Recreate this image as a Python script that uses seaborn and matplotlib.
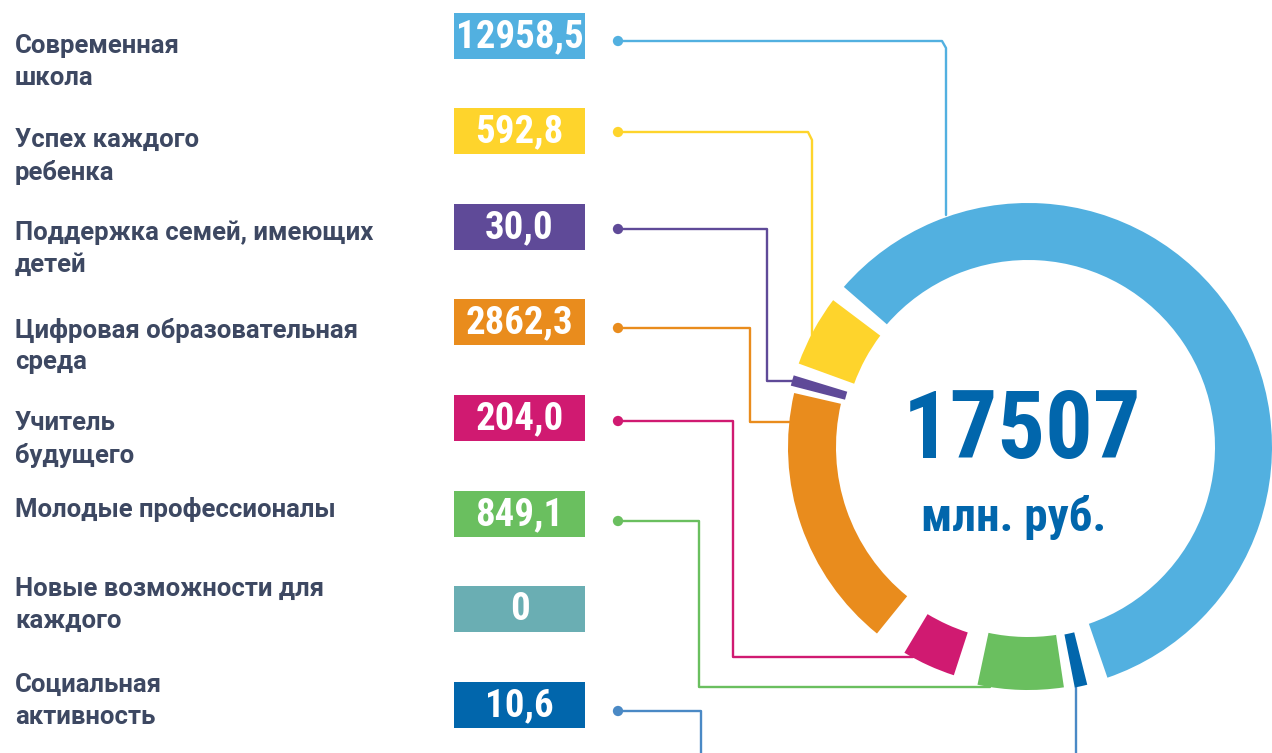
import numpy as np
import matplotlib
matplotlib.use("Agg")
import matplotlib.pyplot as plt
from matplotlib import font_manager as fm
import seaborn as sns

# --- data ---
projects = ["Современная\nшкола", "Успех каждого\nребенка", "Поддержка семей, имеющих\nдетей",
            "Цифровая образовательная\nсреда", "Учитель\nбудущего", "Молодые профессионалы",
            "Новые возможности для\nкаждого", "Социальная\nактивность"]
values = [12958.5, 592.8, 30.0, 2862.3, 204.0, 849.1, 0, 10.6]  # млн. руб.
# share of the ring each segment takes in the picture (degrees) and the gap after it
ring_arc_deg = [210, 17, 2.5, 64, 13, 20.5, 0, 3]
ring_gap_deg = [4, 3, 1.5, 8, 6, 2.5, 0, 5]

colors = ["#52b0e0", "#fed42c", "#5f4a98", "#e98c1d", "#d01a71", "#6abf5f", "#6aaeb3", "#0166ac"]
line_colors = colors[:7] + ["#4a89c5"]

sns.set_theme(style="white")
plt.rcParams["font.family"] = ["Roboto", "DejaVu Sans"]


def pick_condensed():
    # a bold narrow face for the numbers, whichever is installed
    fonts = fm.fontManager.ttflist
    bold = [f for f in fonts if (f.weight in ("bold", 700, 600) or "Bold" in f.fname)]
    for want in ("Liberation Sans Narrow", "Roboto Condensed", "Open Sans Condensed"):
        for f in bold:
            if f.name == want:
                return fm.FontProperties(fname=f.fname)
    for f in bold:
        low = f.fname.lower()
        if ("condensed" in low or "narrow" in low) and "semi" not in low and "extra" not in low \
                and "italic" not in low and "mono" not in low and "serif" not in low.replace("sans", ""):
            return fm.FontProperties(fname=f.fname)
    for f in bold:
        if "condensed" in f.fname.lower() and "italic" not in f.fname.lower():
            return fm.FontProperties(fname=f.fname)
    return fm.FontProperties(family="Roboto", weight="bold")


num_font = pick_condensed()

fig = plt.figure(figsize=(12.72, 7.53), dpi=100)
ax = fig.add_axes([0, 0, 1, 1])

# --- ring ---
cx, cy = 1028, 447
sizes, cols = [], []
for a, g, c in zip(ring_arc_deg, ring_gap_deg, colors):
    sizes += [a, g]
    cols += [c, "white"]
wedges, _ = ax.pie(sizes, colors=cols, startangle=71, counterclock=False,
                   center=(cx, cy), radius=244, wedgeprops=dict(width=55, linewidth=0))
outer = [244, 244, 245, 240, 240, 243, 243, 245]
width = [57, 59, 56, 48, 45, 53, 53, 54]
for i, w in enumerate(wedges):
    if i % 2:
        w.set_visible(False)
    else:
        w.set_radius(outer[i // 2])
        w.set_width(width[i // 2])
        w.set_zorder(3)

# --- labels and value boxes ---
label_y = [46, 140, 233, 330, 423, 509, 589, 685]
box_y = [36, 131, 227, 322, 418, 514, 609, 705]
for name, ly in zip(projects, label_y):
    for k, line in enumerate(name.split("\n")):
        ax.text(15, ly + 32 * k, line, fontsize=18.5, fontweight="bold", color="#3d4862",
                ha="left", va="center")

ax.barh(box_y, [131] * len(box_y), left=454, height=46, color=colors, linewidth=0, zorder=2)
for v, by in zip(values, box_y):
    txt = "0" if v == 0 else f"{v:.1f}".replace(".", ",")
    ax.text(519.5, by + 1, txt, fontproperties=num_font, fontsize=28, color="white",
            ha="center", va="center", zorder=4)

# --- connectors ---
paths = [
    [(618, 41), (942, 41), (946, 48), (946, 215)],
    [(618, 132), (808, 132), (812, 140), (812, 340)],
    [(618, 229), (767, 229), (767, 381), (793, 381)],
    [(618, 328), (750, 328), (750, 422), (790, 422)],
    [(618, 421), (733, 421), (733, 657), (913, 657)],
    [(618, 521), (699, 521), (699, 687), (990, 687)],
    None,
    [(618, 711), (701, 711), (701, 760)],
]
dot_x, dot_y, dot_c = [], [], []
for p, c in zip(paths, line_colors):
    if p is None:
        continue
    xs, ys = zip(*p)
    ax.plot(xs, ys, color=c, lw=1.7, zorder=1, solid_joinstyle="round")
    dot_x.append(xs[0]); dot_y.append(ys[0]); dot_c.append(c)
ax.plot([1076, 1076], [687, 760], color=line_colors[-1], lw=1.7, zorder=1)
sns.scatterplot(x=dot_x, y=dot_y, hue=list(range(len(dot_x))), palette=dot_c,
                s=55, linewidth=0, legend=False, ax=ax, zorder=5)

# --- centre total ---
total = int(sum(values))
ax.text(1022, 432, f"{total}", fontproperties=num_font, fontsize=68, color="#0166ac",
        ha="center", va="center")
ax.text(1014, 518, "млн. руб.", fontproperties=num_font, fontsize=34, color="#0166ac",
        ha="center", va="center")

ax.set_xlim(0, 1272)
ax.set_ylim(753, 0)
ax.set_aspect("auto")
ax.axis("off")
fig.savefig("out.png", dpi=100, facecolor="white")
